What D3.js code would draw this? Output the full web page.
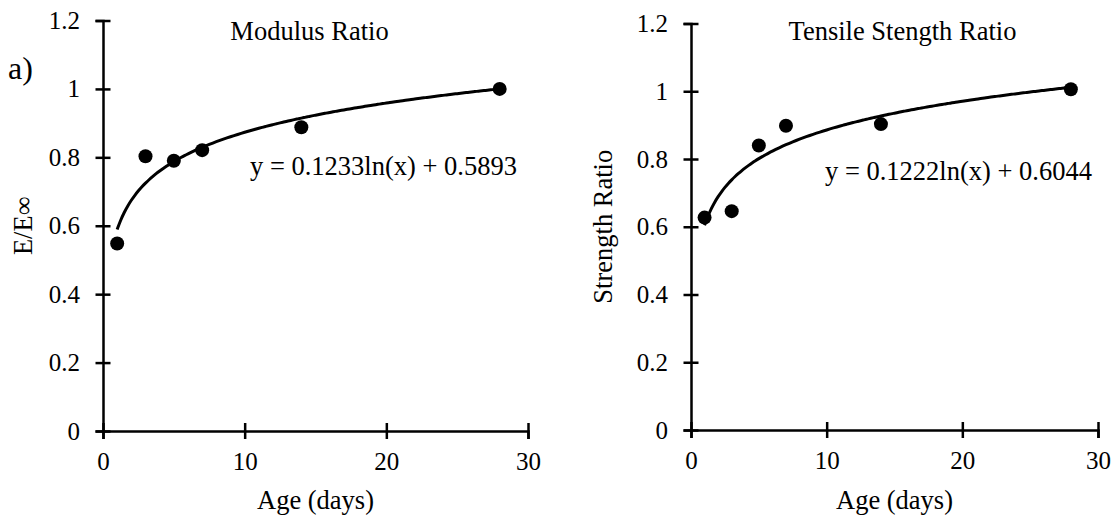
<!DOCTYPE html>
<html>
<head>
<meta charset="utf-8">
<script src="https://cdn.jsdelivr.net/npm/d3@7"></script>
<style>
  body { margin: 0; background: #fff; }
  svg text { font-family: "Liberation Serif", "Times New Roman", serif; fill: #000; }
</style>
</head>
<body>
<div id="chart"></div>
<script>
// Data
const ages = [1, 3, 5, 7, 14, 28];
const modulusRatio = [0.548, 0.803, 0.79, 0.821, 0.888, 1.0];
const strengthRatio = [0.627, 0.646, 0.84, 0.898, 0.903, 1.006];
const xTicks = [0, 10, 20, 30];
const yTicks = [0, 0.2, 0.4, 0.6, 0.8, 1, 1.2];
const panelTitles = ["Modulus Ratio", "Tensile Stength Ratio"];
const yTitles = ["E/E\u221E", "Strength Ratio"];
const xTitle = "Age (days)";
// log trendlines y = a ln(x) + b, as printed on the chart
const fitA = [0.1233, 0.1222];
const fitB = [0.5893, 0.6044];
const fitLabels = ["y = 0.1233ln(x) + 0.5893", "y = 0.1222ln(x) + 0.6044"];

// Layout of the two panels
const panels = [
    { left: 103, right: 528, top: 20.5, bottom: 431, values: modulusRatio,
      eqX: 250, eqY: 175, yTitleX: 32 },
    { left: 691, right: 1098, top: 23.5, bottom: 430, values: strengthRatio,
      eqX: 825, eqY: 180, yTitleX: 612 }
];

const svg = d3.select("#chart")
    .append("svg")
    .attr("width", 1115)
    .attr("height", 516);

panels.forEach((p, i) => {
    const x = d3.scaleLinear().domain([0, 30]).range([p.left, p.right]);
    const y = d3.scaleLinear().domain([0, 1.2]).range([p.bottom, p.top]);

    // x axis
    const gx = svg.append("g")
        .attr("transform", `translate(0,${p.bottom})`)
        .call(d3.axisBottom(x).tickValues(xTicks).tickSizeOuter(0).tickSize(8).tickPadding(13));
    gx.selectAll(".tick line").attr("y1", -8).attr("y2", 8);

    // y axis
    const gy = svg.append("g")
        .attr("transform", `translate(${p.left},0)`)
        .call(d3.axisLeft(y).tickValues(yTicks).tickSizeOuter(0).tickSize(7.5).tickPadding(15.5)
            .tickFormat(d => String(d)));
    gy.selectAll(".tick line").attr("x1", -7.5).attr("x2", 7.5);

    svg.selectAll("g .domain, g .tick line")
        .attr("stroke", "#000")
        .attr("stroke-width", 2.5);
    svg.selectAll("g .tick text")
        .attr("font-size", 25)
        .attr("font-family", "Liberation Serif, Times New Roman, serif");

    // trendline
    const xs = d3.range(1, 28.01, 0.25);
    const line = d3.line()
        .x(d => x(d))
        .y(d => y(fitA[i] * Math.log(d) + fitB[i]))
        .curve(d3.curveBasis);
    svg.append("path")
        .datum(xs)
        .attr("d", line)
        .attr("fill", "none")
        .attr("stroke", "#000")
        .attr("stroke-width", 3);

    // points
    svg.selectAll(".pt" + i)
        .data(ages)
        .enter()
        .append("circle")
        .attr("class", "pt" + i)
        .attr("cx", d => x(d))
        .attr("cy", (d, j) => y(p.values[j]))
        .attr("r", 7)
        .attr("fill", "#000");

    // texts
    svg.append("text")
        .attr("x", (p.left + p.right) / 2 + (i === 0 ? -6 : 8))
        .attr("y", 39.5)
        .attr("text-anchor", "middle")
        .attr("font-size", 26.5)
        .text(panelTitles[i]);

    svg.append("text")
        .attr("x", p.eqX)
        .attr("y", p.eqY)
        .attr("font-size", 26.5)
        .text(fitLabels[i]);

    svg.append("text")
        .attr("transform", `translate(${p.yTitleX},${(p.top + p.bottom) / 2}) rotate(-90)`)
        .attr("text-anchor", "middle")
        .attr("font-size", 26.5)
        .attr("fill", i === 0 ? "#333" : "#000")
        .text(yTitles[i]);

    svg.append("text")
        .attr("x", (p.left + p.right) / 2)
        .attr("y", 509)
        .attr("text-anchor", "middle")
        .attr("font-size", 26.5)
        .text(xTitle);
});

svg.append("text")
    .attr("x", 8)
    .attr("y", 79)
    .attr("font-size", 32)
    .text("a)");
</script>
</body>
</html>
